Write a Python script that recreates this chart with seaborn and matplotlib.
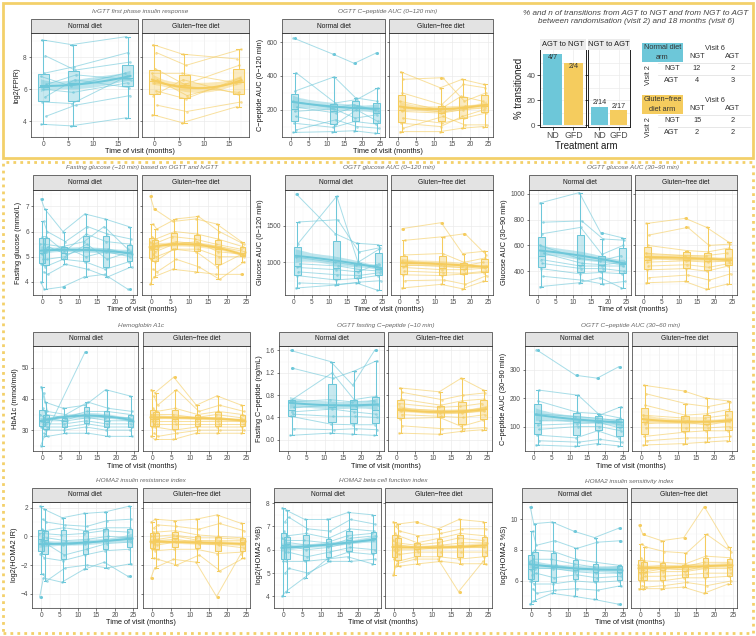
import numpy as np
import pandas as pd
import matplotlib
matplotlib.use('Agg')
import matplotlib.pyplot as plt
from matplotlib.patches import Rectangle
from matplotlib.colors import to_rgba
import seaborn as sns

plt.rcParams['font.family'] = ['Liberation Sans', 'DejaVu Sans']

ND = '#6DC7D9'
GFD = '#F5CC5E'
FRAME = '#F3D06A'

# ---- data (10 subjects per arm) ----
subject_shift = [-0.3, 0.4, 0.1, -0.5, 0.6, 0.0, 0.3, -0.2, 0.5, -0.4]

ivgtt_visits = [0, 6, 17]
ivgtt_nd = [[9.1, 8.8, 9.3], [8.1, 7.2, 7.7], [7.0, 7.4, 8.3], [6.8, 6.2, 7.0],
            [6.3, 6.9, 6.6], [6.0, 5.8, 6.4], [5.5, 6.6, 6.1], [5.2, 5.1, 6.8],
            [4.3, 5.0, 5.6], [3.8, 3.7, 4.2]]
ivgtt_gfd = [[8.8, 8.2, 7.9], [8.3, 7.5, 8.5], [7.3, 6.3, 7.5], [7.0, 7.0, 6.4],
             [6.6, 5.6, 6.5], [6.4, 6.2, 5.8], [5.9, 5.4, 6.7], [5.6, 6.6, 5.7],
             [5.0, 4.6, 5.2], [4.4, 3.9, 4.9]]

ogtt_visits = [1, 12, 18, 24]
cpep120_nd = [[625, 530, 475, 535], [420, 240, 260, 330], [310, 395, 270, 250],
              [250, 210, 230, 200], [215, 180, 220, 190], [190, 205, 150, 170],
              [160, 110, 200, 130], [120, 95, 130, 115], [80, 140, 100, 90],
              [65, 70, 75, 60]]
cpep120_gfd = [[425, 330, 380, 350], [380, 390, 250, 300], [300, 230, 350, 330],
               [250, 200, 280, 250], [210, 185, 220, 230], [190, 180, 200, 210],
               [150, 120, 150, 180], [120, 100, 160, 200], [90, 160, 110, 110],
               [70, 70, 90, 100]]

glu120_nd = [[1930, 1390, 1260, 1240], [1550, 1580, 1140, 1200], [1250, 1900, 1000, 1180],
             [1070, 1000, 960, 950], [980, 950, 900, 880], [930, 900, 870, 980],
             [870, 830, 820, 860], [820, 760, 780, 820], [720, 700, 730, 750],
             [650, 690, 720, 620]]
glu120_gfd = [[1460, 1540, 1120, 1150], [1300, 1350, 1390, 1100], [1100, 1120, 1000, 1060],
              [1020, 980, 950, 1000], [960, 950, 920, 950], [930, 900, 900, 920],
              [880, 860, 850, 880], [830, 820, 840, 860], [750, 760, 700, 820],
              [650, 700, 640, 740]]

glu3090_nd = [[930, 1010, 700, 660], [780, 790, 650, 640], [690, 740, 530, 600],
              [600, 500, 480, 520], [540, 460, 450, 470], [490, 440, 440, 440],
              [460, 420, 420, 400], [420, 380, 390, 380], [360, 330, 300, 320],
              [280, 310, 350, 270]]
glu3090_gfd = [[770, 810, 740, 630], [680, 740, 600, 610], [600, 560, 550, 580],
               [540, 520, 520, 540], [500, 490, 490, 500], [470, 480, 470, 480],
               [440, 450, 430, 460], [410, 420, 400, 440], [350, 370, 330, 380],
               [310, 320, 260, 300]]

fcpep_nd = [[1.6, 1.4, 0.98, 1.6], [1.28, 1.1, 1.24, 1.42], [0.72, 1.2, 0.72, 0.78],
            [0.68, 0.72, 0.68, 0.70], [0.58, 0.62, 0.60, 0.62], [0.50, 0.55, 0.50, 0.46],
            [0.46, 0.42, 0.42, 0.40], [0.42, 0.28, 0.27, 0.27], [0.20, 0.18, 0.20, 0.18],
            [0.08, 0.12, 0.10, 0.08]]
fcpep_gfd = [[0.93, 0.86, 1.10, 0.90], [0.85, 0.72, 0.80, 0.84], [0.73, 0.62, 0.70, 0.73],
             [0.65, 0.58, 0.60, 0.65], [0.56, 0.52, 0.52, 0.58], [0.52, 0.48, 0.48, 0.52],
             [0.45, 0.42, 0.40, 0.45], [0.38, 0.40, 0.24, 0.35], [0.25, 0.20, 0.20, 0.22],
             [0.12, 0.10, 0.15, 0.18]]

cpep3060_nd = [[370, 280, 270, 310], [228, 210, 140, 170], [190, 150, 145, 130],
               [145, 135, 130, 120], [120, 120, 120, 105], [105, 110, 115, 95],
               [90, 100, 100, 85], [70, 60, 85, 60], [50, 45, 55, 45], [35, 30, 40, 32]]
cpep3060_gfd = [[245, 225, 200, 190], [215, 180, 170, 185], [175, 140, 145, 160],
                [140, 130, 130, 140], [120, 120, 115, 125], [110, 115, 105, 118],
                [95, 95, 95, 100], [65, 80, 85, 85], [50, 60, 60, 65], [35, 40, 45, 50]]

full_visits = [0, 1, 6, 12, 17.5, 24]
fglu_nd = [[7.3, 6.9, 6.0, 6.7, 6.5, 6.2], [6.4, 6.0, 5.6, 6.2, 5.9, 5.7],
           [5.8, 5.8, 5.2, 5.9, 5.6, 5.5], [5.5, 5.5, 5.4, 5.6, 6.2, 5.3],
           [5.2, 5.4, 5.1, 5.3, 5.3, 5.1], [5.1, 5.2, 5.4, 5.0, 5.2, 5.0],
           [4.9, 4.9, 5.0, 5.5, 4.9, 5.2], [4.7, 4.6, 4.9, 4.8, 4.5, 4.8],
           [4.4, 4.3, 4.7, 4.5, 4.2, 4.6], [4.0, 3.7, 3.8, 4.2, 4.3, 3.7]]
fglu_gfd = [[7.4, 6.9, 6.4, 6.5, 6.3, 5.6], [6.3, 6.1, 6.5, 6.6, 6.0, 5.5],
            [5.8, 5.7, 6.0, 5.9, 5.7, 5.4], [5.6, 5.5, 5.8, 5.7, 5.5, 5.3],
            [5.4, 5.4, 5.6, 5.5, 5.4, 5.2], [5.3, 5.2, 5.5, 5.6, 5.2, 5.1],
            [5.1, 5.0, 5.3, 5.3, 5.0, 5.0], [4.9, 4.8, 5.3, 5.2, 4.6, 5.1],
            [4.5, 4.4, 4.9, 4.6, 4.1, 4.8], [3.9, 4.2, 4.5, 4.4, 4.3, 4.3]]

hba1c_nd = [[44, 39, 37, 38, 43, 41], [42, 36, 35, 39, 37, 36], [37, 35, 34, 36, 36, 35],
            [35, 34, 33, 35, 34, 34], [33, 33, 33, 34, 33, 33], [33, 32, 32, 33, 32, 32],
            [32, 31, 31, 32, 31, 31], [31, 30, 30, 31, 30, 30], [29, 28, 29, 29, 28, 28],
            [25, 28, None, 55, None, None]]
hba1c_gfd = [[43, 42, 47, 38, 41, 38], [41, 38, 43, 36, 38, 36], [37, 36, 37, 35, 36, 35],
             [35, 35, 35, 34, 35, 34], [34, 34, 34, 34, 34, 33], [33, 33, 33, 33, 33, 33],
             [32, 32, 32, 32, 32, 32], [31, 31, 30, 31, 31, 31], [29, 28, 29, 30, 30, 30],
             [28, 27, 27, 29, 29, 29]]

hir_nd = [[2.1, 1.9, 1.3, 1.6, 1.7, 2.1], [1.2, 1.0, 0.8, 0.7, 1.1, 1.2],
          [0.5, 0.4, 0.6, 0.4, 0.6, 0.6], [0.2, 0.2, 0.1, 0.2, 0.4, 0.3],
          [-0.1, -0.1, -0.3, -0.2, 0.0, -0.1], [-0.3, -0.4, -0.6, -0.5, -0.3, -0.2],
          [-0.6, -0.5, -1.3, -0.9, -0.5, -0.4], [-1.2, -1.5, -1.7, -1.3, -1.0, -0.9],
          [-2.6, -3.1, -2.2, -2.0, -2.2, -1.9], [-4.2, -2.9, -3.2, -2.3, -1.8, -2.8]]
hir_gfd = [[1.0, 1.2, 1.1, 1.2, 1.5, 0.9], [0.6, 0.8, 0.7, 0.5, 0.9, 0.4],
           [0.3, 0.3, 0.4, 0.1, 0.0, -0.1], [0.0, 0.0, 0.1, -0.1, -0.1, -0.2],
           [-0.2, -0.2, 0.0, -0.3, -0.3, -0.3], [-0.4, -0.3, -0.2, -0.4, -0.5, -0.5],
           [-0.5, -0.6, -0.4, -0.5, -0.6, -0.8], [-0.9, -1.0, -0.9, -0.9, -1.2, -1.1],
           [-1.5, -1.6, -2.0, -1.3, -2.4, -1.5], [-2.9, -2.2, -1.6, -1.8, -4.2, -1.2]]

hb_nd = [[7.8, 7.7, 7.3, 7.3, 7.6, 7.5], [7.2, 7.4, 6.9, 6.8, 7.3, 7.1],
         [6.8, 6.6, 6.7, 6.5, 6.9, 6.8], [6.5, 6.4, 6.4, 6.3, 6.6, 6.7],
         [6.3, 6.3, 6.2, 6.2, 6.5, 6.6], [6.1, 6.2, 6.0, 6.1, 6.3, 6.4],
         [5.9, 5.9, 5.7, 5.9, 6.1, 6.0], [5.5, 5.5, 5.5, 5.6, 5.9, 5.8],
         [5.0, 5.2, 5.0, 5.5, 5.5, 5.6], [4.0, 4.2, 4.8, 5.6, 5.7, 5.4]]
hb_gfd = [[7.2, 7.1, 7.2, 6.9, 7.3, 7.2], [7.0, 6.8, 6.6, 6.7, 6.9, 6.9],
          [6.7, 6.6, 6.3, 6.5, 6.7, 6.6], [6.4, 6.3, 6.2, 6.3, 6.5, 6.4],
          [6.2, 6.2, 6.1, 6.2, 6.3, 6.3], [6.0, 6.0, 6.0, 6.1, 6.1, 6.1],
          [5.9, 5.8, 5.9, 5.9, 5.9, 5.9], [5.6, 5.5, 5.7, 5.7, 5.6, 5.7],
          [5.3, 5.3, 5.4, 5.5, 5.4, 5.4], [4.9, 5.4, 5.6, 5.6, 4.2, 5.5]]

hs_nd = [[10.8, 9.7, 9.8, 9.2, 8.8, 9.4], [9.2, 8.3, 8.6, 8.1, 8.5, 8.6],
         [7.8, 8.0, 7.9, 7.4, 7.2, 7.0], [7.2, 7.4, 7.4, 7.1, 6.9, 6.9],
         [6.9, 7.0, 7.0, 6.8, 6.7, 6.7], [6.7, 6.8, 6.8, 6.6, 6.5, 6.5],
         [6.4, 6.5, 6.2, 6.4, 6.2, 6.3], [6.0, 5.8, 5.8, 6.0, 5.9, 6.0],
         [5.5, 5.2, 5.4, 5.5, 5.4, 5.7], [4.5, 4.7, 5.2, 5.0, 4.8, 4.5]]
hs_gfd = [[9.6, 9.0, 8.6, 8.8, 10.8, 8.2], [8.4, 8.2, 7.9, 7.8, 9.0, 7.9],
          [7.5, 7.3, 7.2, 7.1, 7.6, 7.5], [7.0, 6.9, 7.0, 6.9, 7.2, 7.2],
          [6.7, 6.6, 6.8, 6.7, 7.0, 7.0], [6.5, 6.5, 6.6, 6.6, 6.8, 6.8],
          [6.2, 6.3, 6.3, 6.4, 6.5, 6.5], [6.0, 6.0, 6.0, 6.2, 6.2, 6.3],
          [5.7, 5.6, 5.7, 5.9, 5.7, 6.0], [5.5, 5.5, 5.5, 5.6, 5.2, 5.8]]

# transitions (bar chart) and 2x2 tables
trans_type = ['AGT to NGT', 'AGT to NGT', 'NGT to AGT', 'NGT to AGT']
trans_arm = ['ND', 'GFD', 'ND', 'GFD']
trans_n = [4, 2, 2, 2]
trans_total = [7, 4, 14, 17]
table_levels = ['NGT', 'AGT']
nd_table = [[12, 2], [4, 3]]
gfd_table = [[15, 2], [2, 2]]

# ---- figure ----
W, H = 756, 636
fig = plt.figure(figsize=(W / 100, H / 100), dpi=100)

FS_TICK, FS_STRIP, FS_AXIS, FS_TITLE = 4.7, 4.8, 5.3, 4.6


def px_axes(x0, y0, x1, y1):
    return fig.add_axes([x0 / W, 1 - y1 / H, (x1 - x0) / W, (y1 - y0) / H])


def to_long(visits, rows):
    recs = []
    for s, row in enumerate(rows):
        for v, val in zip(visits, row):
            if val is None:
                continue
            recs.append(dict(subject=s, visit=v, time=v + subject_shift[s], value=val))
    return pd.DataFrame(recs)


def add_strip(ax, label, h_px, fc='#E3E3E3', ec='#333333', fs=FS_STRIP):
    bb = ax.get_position()
    h = h_px / (bb.height * H)
    ax.add_patch(Rectangle((0, 1), 1, h, transform=ax.transAxes, clip_on=False,
                           facecolor=fc, edgecolor=ec, lw=0.5 if ec != 'none' else 0))
    ax.text(0.5, 1 + h / 2, label, transform=ax.transAxes, ha='center', va='center',
            fontsize=fs, color='#1A1A1A')


def draw_facet(ax, visits, rows, color, box_w):
    df = to_long(visits, rows)
    sns.lineplot(data=df, x='time', y='value', units='subject', estimator=None,
                 color=color, alpha=0.6, lw=0.7, marker='o', markersize=1.9,
                 markeredgewidth=0, legend=False, ax=ax)
    gap = float(np.min(np.diff(visits)))
    sns.boxplot(data=df, x='visit', y='value', native_scale=True, orient='x',
                width=box_w / gap, color=color, linecolor=color, linewidth=0.75,
                fliersize=1.2, saturation=1, ax=ax)
    for p in ax.patches:
        p.set_facecolor(to_rgba(color, 0.38))
    sns.regplot(data=df, x='time', y='value', order=2, scatter=False, color=color, ci=50,
                line_kws=dict(lw=1.4), seed=3, ax=ax)
    ax.collections[-1].set_alpha(0.45)


def style_axes(ax, xlim, xticks, ylim, yticks, show_y):
    ax.set_xlim(xlim)
    ax.set_ylim(ylim)
    ax.set_xticks(xticks)
    ax.set_yticks(yticks)
    xs = xticks[1] - xticks[0]
    ys = yticks[1] - yticks[0]
    ax.set_xticks(np.arange(xticks[0] - xs / 2, xlim[1], xs), minor=True)
    ax.set_yticks(np.arange(yticks[0] - ys / 2, ylim[1], ys), minor=True)
    ax.grid(which='major', color='#EBEBEB', lw=0.5)
    ax.grid(which='minor', color='#F3F3F3', lw=0.3)
    ax.set_axisbelow(True)
    ax.tick_params(which='minor', length=0)
    ax.tick_params(which='major', length=1.8, width=0.45, color='#333333',
                   labelsize=FS_TICK, labelcolor='#4D4D4D', pad=1.2)
    if not show_y:
        ax.tick_params(labelleft=False)
    ax.set_xlabel('')
    ax.set_ylabel('')
    for s in ax.spines.values():
        s.set_color('#333333')
        s.set_linewidth(0.5)


rows_px = {'top': (19, 33, 137, 152, 11), 'r1': (175, 190, 295, 309, 167),
           'r2': (332, 346, 451, 466, 325), 'r3': (488, 502, 608, 623, 481)}
x4 = (-1.1, 26.3)
x6 = (-1.3, 26.0)
t25 = [0, 5, 10, 15, 20, 25]

specs = [
    ('IvGTT first phase insulin response', 'log2(FPIR)', ivgtt_visits, ivgtt_nd, ivgtt_gfd,
     (3.47, 9.53), [4, 6, 8], (-1.75, 19.1), [0, 5, 10, 15], 2.2, (31, 138), (142, 249), 'top'),
    ('OGTT C\u2212peptide AUC (0\u2212120 min)', 'C\u2212peptide AUC (0\u2212120 min)', ogtt_visits,
     cpep120_nd, cpep120_gfd, (38, 655), [200, 400, 600], x4, t25, 2.0, (282, 385), (389, 493), 'top'),
    ('Fasting glucose (\u221210 min) based on OGTT and IvGTT', 'Fasting glucose (mmol/L)', full_visits,
     fglu_nd, fglu_gfd, (3.48, 7.65), [4, 5, 6, 7], x6, t25, 1.5, (33, 137), (142, 250), 'r1'),
    ('OGTT glucose AUC (0\u2212120 min)', 'Glucose AUC (0\u2212120 min)', ogtt_visits,
     glu120_nd, glu120_gfd, (555, 1985), [1000, 1500], x4, t25, 2.0, (285, 387), (391, 493), 'r1'),
    ('OGTT glucose AUC (30\u221290 min)', 'Glucose AUC (30\u221290 min)', ogtt_visits,
     glu3090_nd, glu3090_gfd, (215, 1030), [400, 600, 800, 1000], x4, t25, 2.0, (529, 631), (635, 737), 'r1'),
    ('Hemoglobin A1c', 'HbA1c (mmol/mol)', full_visits, hba1c_nd, hba1c_gfd,
     (23.3, 57), [30, 40, 50], x6, t25, 1.5, (33, 138), (143, 250), 'r2'),
    ('OGTT fasting C\u2212peptide (\u221210 min)', 'Fasting C\u2212peptide (ng/mL)', ogtt_visits,
     fcpep_nd, fcpep_gfd, (-0.02, 1.68), [0.0, 0.4, 0.8, 1.2, 1.6], x4, t25, 2.0, (279, 384), (388, 492), 'r2'),
    ('OGTT C\u2212peptide AUC (30\u221260 min)', 'C\u2212peptide AUC (30\u221290 min)', ogtt_visits,
     cpep3060_nd, cpep3060_gfd, (14, 383), [100, 200, 300], x4, t25, 2.0, (525, 628), (632, 737), 'r2'),
    ('HOMA2 insulin resistance index', 'log2(HOMA2 IR)', full_visits, hir_nd, hir_gfd,
     (-4.45, 2.4), [-4, -2, 0, 2], x6, t25, 1.5, (32, 137), (143, 250), 'r3'),
    ('HOMA2 beta cell function index', 'log2(HOMA2 %B)', full_visits, hb_nd, hb_gfd,
     (3.8, 8.05), [4, 5, 6, 7, 8], x6, t25, 1.5, (274, 381), (385, 492), 'r3'),
    ('HOMA2 insulin sensitivity index', 'log2(HOMA2 %S)', full_visits, hs_nd, hs_gfd,
     (4.25, 11.1), [6, 8, 10], x6, t25, 1.5, (522, 627), (631, 737), 'r3'),
]

for title, ylab, visits, nd, gfd, ylim, yticks, xlim, xticks, bw, lft, rgt, rk in specs:
    s_top, a_top, a_bot, xl_y, t_y = rows_px[rk]
    for (x0, x1), rows, color, name, first in [(lft, nd, ND, 'Normal diet', True),
                                                (rgt, gfd, GFD, 'Gluten\u2212free diet', False)]:
        ax = px_axes(x0, a_top, x1, a_bot)
        draw_facet(ax, visits, rows, color, bw)
        style_axes(ax, xlim, xticks, ylim, yticks, first)
        add_strip(ax, name, a_top - s_top)
        if first:
            ax.set_ylabel(ylab, fontsize=FS_AXIS, color='#1A1A1A', labelpad=2)
    fig.text((lft[0] + rgt[1]) / 2 / W, 1 - xl_y / H, 'Time of visit (months)',
             ha='center', va='center', fontsize=FS_AXIS, color='#1A1A1A')
    fig.text((lft[0] + rgt[1]) / 2 / W, 1 - t_y / H, title, ha='center', va='center',
             fontsize=FS_TITLE, style='italic', color='#666666')

# ---- transitions bar chart ----
bar_df = pd.DataFrame({'type': trans_type, 'arm': trans_arm, 'n': trans_n, 'total': trans_total})
bar_df['pct'] = 100 * bar_df['n'] / bar_df['total']
bar_df['label'] = bar_df['n'].astype(str) + '/' + bar_df['total'].astype(str)

for i, (ttype, (x0, x1)) in enumerate(zip(['AGT to NGT', 'NGT to AGT'], [(540, 586), (588, 630)])):
    ax = px_axes(x0, 50, x1, 127)
    sub = bar_df[bar_df['type'] == ttype]
    sns.barplot(data=sub, x='arm', y='pct', hue='arm', order=['ND', 'GFD'],
                hue_order=['ND', 'GFD'], palette={'ND': ND, 'GFD': GFD}, width=0.9,
                saturation=1, legend=False, ax=ax)
    for j, r in enumerate(sub.itertuples()):
        ly = r.pct - 3.5 if r.pct > 30 else r.pct + 3.5
        ax.text(j, ly, r.label, ha='center', va='center', fontsize=5.2, color='#333333')
    ax.set_xlim(-0.6, 1.6)
    ax.set_ylim(-1.5, 60)
    ax.set_yticks([0, 20, 40])
    ax.set_yticks([10, 30, 50], minor=True)
    ax.grid(which='both', axis='y', color='#EBEBEB', lw=0.5)
    ax.grid(axis='x', color='#EBEBEB', lw=0.5)
    ax.set_axisbelow(True)
    ax.tick_params(which='minor', length=0)
    ax.tick_params(length=2, width=0.5, labelsize=6.3, labelcolor='#4D4D4D', pad=1.2)
    ax.tick_params(axis='y', labelsize=5.8)
    ax.spines['top'].set_visible(False)
    for s in ['left', 'right', 'bottom']:
        ax.spines[s].set_linewidth(0.7)
        ax.spines[s].set_color('#222222')
    ax.set_xlabel('')
    ax.set_ylabel('')
    if i == 0:
        ax.set_ylabel('% transitioned', fontsize=6.9, color='#1A1A1A', labelpad=2)
    else:
        ax.tick_params(labelleft=False)
    add_strip(ax, ttype, 11, fc='#EBEBEB', ec='none', fs=5.4)

fig.text(586 / W, 1 - 146 / H, 'Treatment arm', ha='center', va='center', fontsize=6.9,
         color='#1A1A1A')
fig.text(636 / W, 1 - 17.5 / H,
         '% and n of transitions from AGT to NGT and from NGT to AGT\n'
         'between randomisation (visit 2) and 18 months (visit 6)',
         ha='center', va='center', fontsize=5.9, style='italic', color='#444444',
         linespacing=1.3)

# ---- 2x2 transition tables ----
FS_TAB = 5.3
for tab, color, head, y0 in [(nd_table, ND, 'Normal diet\narm', 43),
                             (gfd_table, GFD, 'Gluten\u2212free\ndiet arm', 95)]:
    fig.patches.append(Rectangle((642 / W, 1 - (y0 + 19) / H), 41 / W, 19 / H,
                                 transform=fig.transFigure, facecolor=color, edgecolor='none'))
    fig.text(662.5 / W, 1 - (y0 + 9.5) / H, head, ha='center', va='center', fontsize=FS_TAB,
             color='#333333', linespacing=1.5)
    fig.text(715 / W, 1 - (y0 + 5) / H, 'Visit 6', ha='center', va='center', fontsize=FS_TAB,
             color='#333333')
    for k, lev in enumerate(table_levels):
        fig.text((697 + 36 * k) / W, 1 - (y0 + 14) / H, lev, ha='center', va='center',
                 fontsize=FS_TAB, color='#333333')
        fig.text(672 / W, 1 - (y0 + 26 + 12 * k) / H, lev, ha='center', va='center',
                 fontsize=FS_TAB, color='#333333')
        for m in range(2):
            fig.text((697 + 36 * m) / W, 1 - (y0 + 26 + 12 * k) / H, str(tab[k][m]),
                     ha='center', va='center', fontsize=FS_TAB, color='#333333')
    fig.text(648 / W, 1 - (y0 + 32) / H, 'Visit 2', ha='center', va='center', fontsize=FS_TAB,
             rotation=90, color='#333333')
    for ly in [y0 + 19.5, y0 + 32]:
        fig.add_artist(plt.Line2D([658 / W, 750 / W], [1 - ly / H, 1 - ly / H],
                                  color='#DDDDDD', lw=0.5))

# ---- section frames ----
fig.patches.append(Rectangle((3 / W, 1 - 158 / H), 750 / W, 155 / H, transform=fig.transFigure,
                             fill=False, edgecolor=FRAME, lw=2))
fig.patches.append(Rectangle((3 / W, 1 - 633 / H), 750 / W, 471 / H, transform=fig.transFigure,
                             fill=False, edgecolor=FRAME, lw=2, linestyle=(0, (1, 1.5))))

fig.savefig('out.png', dpi=100)
